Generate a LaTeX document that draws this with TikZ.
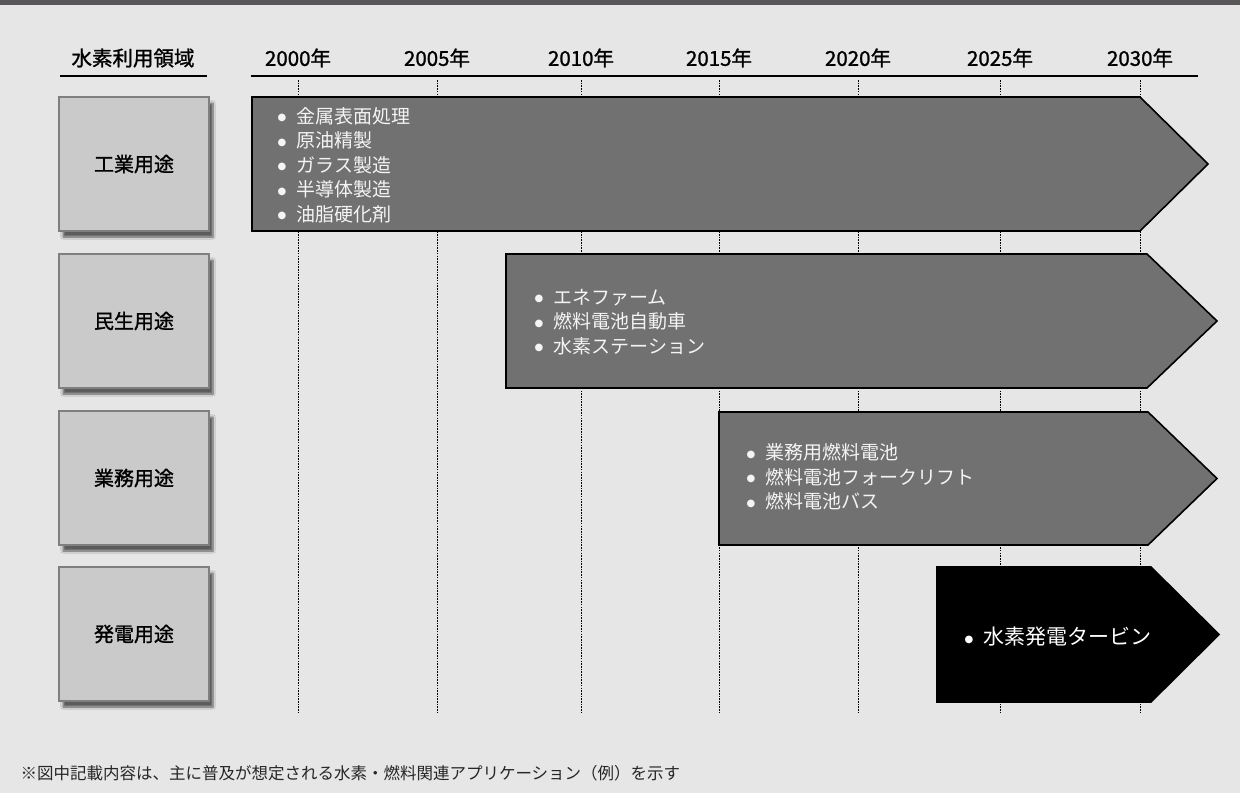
\documentclass[tikz,border=0pt]{standalone}
\usepackage{fontspec}
\setmainfont{Noto Sans CJK JP}[BoldFont={Noto Sans CJK JP}, BoldFeatures={FakeBold=1.2}]
\newfontfamily\bulletfont{DejaVu Sans}
\usetikzlibrary{shadows.blur}
\definecolor{bgc}{HTML}{E6E6E6}
\definecolor{topbar}{HTML}{5A575A}
\definecolor{catfill}{HTML}{C9CAC9}
\definecolor{catdraw}{HTML}{7F7F7F}
\definecolor{arrfill}{HTML}{717171}
\definecolor{arrtext}{HTML}{F4F4F4}
\definecolor{notec}{HTML}{262626}
\newcommand{\itm}[1]{\makebox[19pt][l]{\raisebox{2.6pt}{\bulletfont\fontsize{10}{10}\selectfont ●}}#1}
\tikzset{
  catbox/.style={draw=catdraw, line width=1.6pt, fill=catfill, minimum width=150pt, minimum height=134pt,
    font=\fontsize{20}{22}\selectfont\bfseries, text=black,
    blur shadow={shadow xshift=4pt, shadow yshift=-6pt, shadow blur steps=6, shadow opacity=60}},
  hdr/.style={font=\fontsize{20.5}{22}\selectfont\bfseries, text=black},
  hline/.style={line width=1.3pt, black},
  grid/.style={line width=0.9pt, black, dash pattern=on 1.6pt off 1.1pt},
  arrowbody/.style={draw=black, line width=1.6pt, fill=arrfill, line join=miter},
  arrowdark/.style={draw=black, line width=1.6pt, fill=black, line join=miter},
  items/.style={anchor=west, align=left, text=arrtext, font=\fontsize{19}{24.5}\selectfont},
  note/.style={anchor=west, text=notec, font=\fontsize{16.5}{18}\selectfont}
}
\begin{document}
\begin{tikzpicture}[x=1pt,y=-1pt]
\useasboundingbox (0,0) rectangle (1240,793);
\fill[bgc] (0,0) rectangle (1240,793);
\fill[topbar] (0,0) rectangle (1240,5);

% header
\node[hdr] (hcat) at (133,58) {水素利用領域};
\draw[hline] (60,76) -- (207,76);
\foreach \yr/\x in {2000/298,2005/437,2010/581,2015/719,2020/858,2025/1000,2030/1140}{
  \node[hdr] (y\yr) at (\x,58) {\yr 年};
  \coordinate (gt\yr) at (\x,80);
  \coordinate (gb\yr) at (\x,712);
}
\foreach \yr in {2000,2005,2010,2015,2020,2025,2030}{
  \draw[grid] (gt\yr) -- (gb\yr);
}
\draw[hline] (251,76) -- (1198,76);

% category boxes
\node[catbox] (c1) at (134,164) {工業用途};
\node[catbox] (c2) at (134,321) {民生用途};
\node[catbox] (c3) at (134,478) {業務用途};
\node[catbox] (c4) at (134,634) {発電用途};

% arrows
\draw[arrowbody] (252,97) -- (1140,97) -- (1208,164) -- (1140,231) -- (252,231) -- cycle;
\draw[arrowbody] (506,254) -- (1147,254) -- (1217,321) -- (1147,388) -- (506,388) -- cycle;
\draw[arrowbody] (719,412) -- (1148,412) -- (1217,478.5) -- (1148,545) -- (719,545) -- cycle;
\draw[arrowdark] (937,567) -- (1151,567) -- (1219,634.5) -- (1151,702) -- (937,702) -- cycle;

\node[items] (t1) at (274,165) {\itm{金属表面処理}\\\itm{原油精製}\\\itm{ガラス製造}\\\itm{半導体製造}\\\itm{油脂硬化剤}};
\node[items] (t2) at (531,322) {\itm{エネファーム}\\\itm{燃料電池自動車}\\\itm{水素ステーション}};
\node[items] (t3) at (743,477) {\itm{業務用燃料電池}\\\itm{燃料電池フォークリフト}\\\itm{燃料電池バス}};
\node[items, text=white, font=\fontsize{21}{24}\selectfont] (t4) at (961,637) {\itm{水素発電タービン}};

% note
\node[note] (nt) at (17,773) {※図中記載内容は、主に普及が想定される水素・燃料関連アプリケーション（例）を示す};
\end{tikzpicture}
\end{document}
